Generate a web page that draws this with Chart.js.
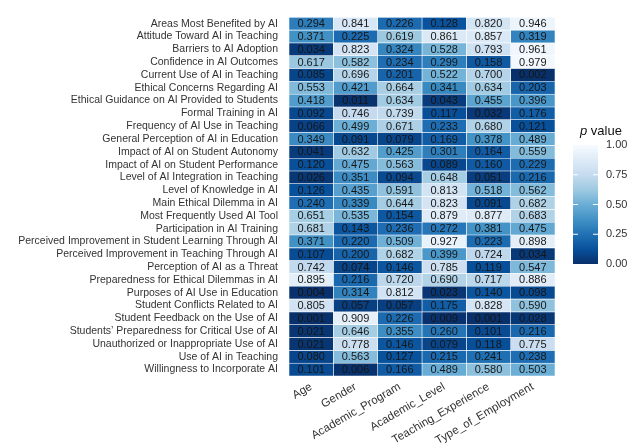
<!DOCTYPE html>
<html>
<head>
<meta charset="utf-8">
<script src="https://cdn.jsdelivr.net/npm/chart.js@4.4.1/dist/chart.umd.min.js"></script>
<style>
  html, body { margin: 0; padding: 0; background: #fff; }
  #wrap { width: 634px; height: 448px; }
</style>
</head>
<body>
<div id="wrap"><canvas id="heat" width="634" height="448"></canvas></div>
<script>
const rowLabels = [
  "Areas Most Benefited by AI",
  "Attitude Toward AI in Teaching",
  "Barriers to AI Adoption",
  "Confidence in AI Outcomes",
  "Current Use of AI in Teaching",
  "Ethical Concerns Regarding AI",
  "Ethical Guidance on AI Provided to Students",
  "Formal Training in AI",
  "Frequency of AI Use in Teaching",
  "General Perception of AI in Education",
  "Impact of AI on Student Autonomy",
  "Impact of AI on Student Performance",
  "Level of AI Integration in Teaching",
  "Level of Knowledge in AI",
  "Main Ethical Dilemma in AI",
  "Most Frequently Used AI Tool",
  "Participation in AI Training",
  "Perceived Improvement in Student Learning Through AI",
  "Perceived Improvement in Teaching Through AI",
  "Perception of AI as a Threat",
  "Preparedness for Ethical Dilemmas in AI",
  "Purposes of AI Use in Education",
  "Student Conflicts Related to AI",
  "Student Feedback on the Use of AI",
  "Students\u2019 Preparedness for Critical Use of AI",
  "Unauthorized or Inappropriate Use of AI",
  "Use of AI in Teaching",
  "Willingness to Incorporate AI"
];

const colLabels = ["Age", "Gender", "Academic_Program", "Academic_Level", "Teaching_Experience", "Type_of_Employment"];

// p values, one array per column, rows in the order above
const age = [0.294, 0.371, 0.034, 0.617, 0.085, 0.553, 0.418, 0.092, 0.066, 0.349, 0.041, 0.120, 0.026, 0.126,
  0.240, 0.651, 0.681, 0.371, 0.107, 0.742, 0.895, 0.004, 0.805, 0.001, 0.021, 0.021, 0.080, 0.101];
const gender = [0.841, 0.225, 0.823, 0.582, 0.696, 0.421, 0.011, 0.746, 0.499, 0.091, 0.632, 0.475, 0.351, 0.435,
  0.339, 0.535, 0.143, 0.220, 0.200, 0.074, 0.216, 0.314, 0.057, 0.909, 0.646, 0.778, 0.563, 0.006];
const academicProgram = [0.226, 0.619, 0.324, 0.234, 0.201, 0.664, 0.634, 0.739, 0.671, 0.079, 0.425, 0.563, 0.094, 0.591,
  0.644, 0.154, 0.236, 0.509, 0.682, 0.146, 0.720, 0.812, 0.057, 0.226, 0.355, 0.146, 0.127, 0.166];
const academicLevel = [0.128, 0.861, 0.528, 0.299, 0.522, 0.341, 0.043, 0.117, 0.233, 0.169, 0.301, 0.089, 0.648, 0.813,
  0.823, 0.879, 0.272, 0.927, 0.399, 0.785, 0.690, 0.023, 0.175, 0.009, 0.260, 0.079, 0.215, 0.489];
const teachingExperience = [0.820, 0.857, 0.793, 0.158, 0.700, 0.634, 0.455, 0.032, 0.680, 0.378, 0.164, 0.160, 0.051, 0.518,
  0.091, 0.877, 0.381, 0.223, 0.724, 0.119, 0.717, 0.140, 0.828, 0.001, 0.101, 0.118, 0.241, 0.580];
const typeOfEmployment = [0.946, 0.319, 0.961, 0.979, 0.002, 0.203, 0.396, 0.176, 0.121, 0.489, 0.559, 0.229, 0.216, 0.562,
  0.682, 0.683, 0.475, 0.898, 0.034, 0.547, 0.886, 0.098, 0.590, 0.028, 0.216, 0.775, 0.238, 0.503];

const columns = [age, gender, academicProgram, academicLevel, teachingExperience, typeOfEmployment];
const legendTicks = [0, 0.25, 0.5, 0.75, 1];

// Blues palette, dark (p = 0) to light (p = 1)
const blues = ["#08306B", "#08519C", "#2171B5", "#4292C6", "#6BAED6", "#9ECAE1", "#C6DBEF", "#DEEBF7", "#F7FBFF"];

function hexToRgb(h) {
  return [parseInt(h.slice(1, 3), 16), parseInt(h.slice(3, 5), 16), parseInt(h.slice(5, 7), 16)];
}

function pColor(p) {
  const t = Math.max(0, Math.min(1, p)) * (blues.length - 1);
  const i = Math.min(Math.floor(t), blues.length - 2);
  const f = t - i;
  const a = hexToRgb(blues[i]), b = hexToRgb(blues[i + 1]);
  const c = a.map((v, k) => Math.round(v + (b[k] - v) * f));
  return `rgb(${c[0]},${c[1]},${c[2]})`;
}

// each cell is one unit wide; colour carries the p value
const datasets = columns.map((vals, j) => ({
  label: colLabels[j],
  data: vals.map(() => 1),
  pvals: vals,
  backgroundColor: vals.map(pColor),
  borderColor: "#ffffff",
  borderWidth: 0.6,
  borderSkipped: false,
  barPercentage: 1,
  categoryPercentage: 1
}));

const cellText = {
  id: "cellText",
  afterDatasetsDraw(chart) {
    const ctx = chart.ctx;
    ctx.save();
    ctx.font = "11px 'Liberation Sans', Arial, sans-serif";
    ctx.fillStyle = "#161616";
    ctx.textAlign = "center";
    ctx.textBaseline = "middle";
    chart.data.datasets.forEach((ds, j) => {
      chart.getDatasetMeta(j).data.forEach((bar, i) => {
        ctx.fillText(ds.pvals[i].toFixed(3), (bar.x + bar.base) / 2, bar.y + 0.5);
      });
    });
    ctx.restore();
  }
};

const colorBar = {
  id: "colorBar",
  afterDraw(chart) {
    const ctx = chart.ctx;
    const x0 = 573, w = 25, top = 145, bottom = 264;
    ctx.save();
    const grad = ctx.createLinearGradient(0, bottom, 0, top);
    for (let k = 0; k <= 40; k++) grad.addColorStop(k / 40, pColor(k / 40));
    ctx.fillStyle = grad;
    ctx.fillRect(x0, top, w, bottom - top);

    ctx.strokeStyle = "#ffffff";
    ctx.lineWidth = 1;
    ctx.font = "11px 'Liberation Sans', Arial, sans-serif";
    ctx.fillStyle = "#333";
    ctx.textAlign = "left";
    ctx.textBaseline = "middle";
    legendTicks.forEach(v => {
      const y = bottom - v * (bottom - top);
      if (v > 0 && v < 1) {
        ctx.beginPath();
        ctx.moveTo(x0, y); ctx.lineTo(x0 + 5, y);
        ctx.moveTo(x0 + w - 5, y); ctx.lineTo(x0 + w, y);
        ctx.stroke();
      }
      ctx.fillText(v.toFixed(2), x0 + w + 8, y);
    });

    ctx.fillStyle = "#111";
    ctx.font = "italic 13px 'Liberation Sans', Arial, sans-serif";
    ctx.fillText("p", 580, 131);
    const pw = ctx.measureText("p ").width;
    ctx.font = "13px 'Liberation Sans', Arial, sans-serif";
    ctx.fillText("value", 580 + pw, 131);
    ctx.restore();
  }
};

new Chart(document.getElementById("heat"), {
  type: "bar",
  data: { labels: rowLabels, datasets },
  options: {
    indexAxis: "y",
    responsive: false,
    animation: false,
    devicePixelRatio: 1,
    layout: { padding: { top: 12, right: 79, left: 0, bottom: 0 } },
    plugins: { legend: { display: false }, tooltip: { enabled: false } },
    scales: {
      x: {
        type: "linear",
        stacked: true,
        min: 0,
        max: 6,
        grid: { display: false, drawTicks: false },
        border: { display: false },
        afterBuildTicks: s => { s.ticks = colLabels.map((c, i) => ({ value: i + 0.5 })); },
        afterFit: s => { s.height = 72; },
        ticks: {
          autoSkip: false,
          minRotation: 30,
          maxRotation: 30,
          padding: 4,
          color: "#333",
          font: { family: "'Liberation Sans', Arial, sans-serif", size: 11.5 },
          callback: (v, i) => colLabels[i]
        }
      },
      y: {
        stacked: true,
        grid: { display: false, drawTicks: false },
        border: { display: false },
        afterFit: s => { s.width = 289; },
        ticks: {
          autoSkip: false,
          padding: 11,
          color: "#333",
          font: { family: "'Liberation Sans', Arial, sans-serif", size: 10.5 }
        }
      }
    }
  },
  plugins: [cellText, colorBar]
});
</script>
</body>
</html>
